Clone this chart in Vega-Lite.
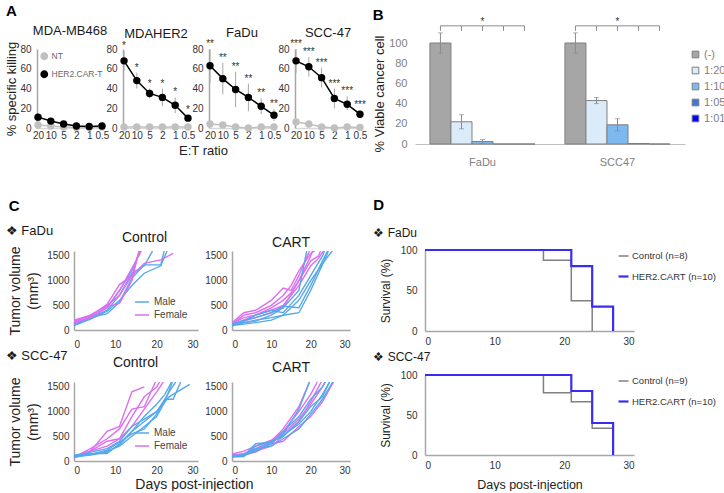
{
"$schema":"https://vega.github.io/schema/vega-lite/v6.json",
"padding":{"left":5,"top":4,"right":0,"bottom":0},
"config":{
 "font":"Liberation Sans",
 "view":{"stroke":null},
 "axis":{"grid":false,"ticks":false,"domainColor":"#a6a6a6","domainWidth":1.5,"labelColor":"#333333","labelFontSize":10,"titleFontWeight":"normal","titleColor":"#222222"},
 "title":{"fontWeight":"normal","color":"#1a1a1a"}
},
"datasets":{
 "kill":[
  {"c":"MDA-MB468","e":"20","g":"NT","v":3,"lo":2,"hi":4,"s":""},
  {"c":"MDA-MB468","e":"10","g":"NT","v":2,"lo":1,"hi":3,"s":""},
  {"c":"MDA-MB468","e":"5","g":"NT","v":1,"lo":0,"hi":2,"s":""},
  {"c":"MDA-MB468","e":"2","g":"NT","v":0.5,"lo":0,"hi":1.5,"s":""},
  {"c":"MDA-MB468","e":"1","g":"NT","v":0.5,"lo":0,"hi":1.5,"s":""},
  {"c":"MDA-MB468","e":"0.5","g":"NT","v":1,"lo":0,"hi":2,"s":""},
  {"c":"MDA-MB468","e":"20","g":"HER2.CAR-T","v":11,"lo":8,"hi":14,"s":""},
  {"c":"MDA-MB468","e":"10","g":"HER2.CAR-T","v":7,"lo":5,"hi":9,"s":""},
  {"c":"MDA-MB468","e":"5","g":"HER2.CAR-T","v":4,"lo":2.5,"hi":5.5,"s":""},
  {"c":"MDA-MB468","e":"2","g":"HER2.CAR-T","v":2,"lo":1,"hi":3,"s":""},
  {"c":"MDA-MB468","e":"1","g":"HER2.CAR-T","v":1.5,"lo":0.5,"hi":2.5,"s":""},
  {"c":"MDA-MB468","e":"0.5","g":"HER2.CAR-T","v":2,"lo":1,"hi":3,"s":""},
  {"c":"MDAHER2","e":"20","g":"NT","v":1,"lo":0,"hi":2,"s":""},
  {"c":"MDAHER2","e":"10","g":"NT","v":1,"lo":0,"hi":2,"s":""},
  {"c":"MDAHER2","e":"5","g":"NT","v":1,"lo":0,"hi":2,"s":""},
  {"c":"MDAHER2","e":"2","g":"NT","v":1,"lo":0,"hi":2,"s":""},
  {"c":"MDAHER2","e":"1","g":"NT","v":1,"lo":0,"hi":2,"s":""},
  {"c":"MDAHER2","e":"0.5","g":"NT","v":1,"lo":0,"hi":2,"s":""},
  {"c":"MDAHER2","e":"20","g":"HER2.CAR-T","v":68,"lo":58,"hi":78,"s":"*"},
  {"c":"MDAHER2","e":"10","g":"HER2.CAR-T","v":48,"lo":40,"hi":56,"s":"*"},
  {"c":"MDAHER2","e":"5","g":"HER2.CAR-T","v":35,"lo":30,"hi":40,"s":"*"},
  {"c":"MDAHER2","e":"2","g":"HER2.CAR-T","v":31,"lo":22,"hi":40,"s":"*"},
  {"c":"MDAHER2","e":"1","g":"HER2.CAR-T","v":23,"lo":15,"hi":31,"s":"*"},
  {"c":"MDAHER2","e":"0.5","g":"HER2.CAR-T","v":10,"lo":7,"hi":13,"s":"*"},
  {"c":"FaDu","e":"20","g":"NT","v":4,"lo":2,"hi":6,"s":""},
  {"c":"FaDu","e":"10","g":"NT","v":3,"lo":2,"hi":4,"s":""},
  {"c":"FaDu","e":"5","g":"NT","v":1,"lo":0,"hi":2,"s":""},
  {"c":"FaDu","e":"2","g":"NT","v":0,"lo":0,"hi":1,"s":""},
  {"c":"FaDu","e":"1","g":"NT","v":1,"lo":0,"hi":2,"s":""},
  {"c":"FaDu","e":"0.5","g":"NT","v":1,"lo":0,"hi":2,"s":""},
  {"c":"FaDu","e":"20","g":"HER2.CAR-T","v":63,"lo":46,"hi":80,"s":"**"},
  {"c":"FaDu","e":"10","g":"HER2.CAR-T","v":50,"lo":34,"hi":66,"s":"**"},
  {"c":"FaDu","e":"5","g":"HER2.CAR-T","v":39,"lo":21,"hi":57,"s":"**"},
  {"c":"FaDu","e":"2","g":"HER2.CAR-T","v":31,"lo":17,"hi":45,"s":"**"},
  {"c":"FaDu","e":"1","g":"HER2.CAR-T","v":22,"lo":14,"hi":30,"s":"**"},
  {"c":"FaDu","e":"0.5","g":"HER2.CAR-T","v":13,"lo":7,"hi":19,"s":"**"},
  {"c":"SCC-47","e":"20","g":"NT","v":6,"lo":4,"hi":8,"s":""},
  {"c":"SCC-47","e":"10","g":"NT","v":4,"lo":2,"hi":6,"s":""},
  {"c":"SCC-47","e":"5","g":"NT","v":1,"lo":0,"hi":2,"s":""},
  {"c":"SCC-47","e":"2","g":"NT","v":0,"lo":0,"hi":1,"s":""},
  {"c":"SCC-47","e":"1","g":"NT","v":1,"lo":0,"hi":2,"s":""},
  {"c":"SCC-47","e":"0.5","g":"NT","v":0.5,"lo":0,"hi":1.5,"s":""},
  {"c":"SCC-47","e":"20","g":"HER2.CAR-T","v":68,"lo":56,"hi":80,"s":"***"},
  {"c":"SCC-47","e":"10","g":"HER2.CAR-T","v":62,"lo":52,"hi":72,"s":"***"},
  {"c":"SCC-47","e":"5","g":"HER2.CAR-T","v":51,"lo":41,"hi":61,"s":"***"},
  {"c":"SCC-47","e":"2","g":"HER2.CAR-T","v":30,"lo":20,"hi":40,"s":"***"},
  {"c":"SCC-47","e":"1","g":"HER2.CAR-T","v":24,"lo":18,"hi":32,"s":"***"},
  {"c":"SCC-47","e":"0.5","g":"HER2.CAR-T","v":14,"lo":10,"hi":18,"s":"***"}
 ],
 "via":[
  {"cell":"FaDu","r":"(-)","v":100,"lo":90,"hi":110},
  {"cell":"FaDu","r":"1:20","v":22,"lo":15,"hi":29},
  {"cell":"FaDu","r":"1:10","v":2.5,"lo":0.5,"hi":4.5},
  {"cell":"FaDu","r":"1:05","v":0,"lo":0,"hi":0},
  {"cell":"FaDu","r":"1:01","v":0,"lo":0,"hi":0},
  {"cell":"SCC47","r":"(-)","v":100,"lo":90,"hi":110},
  {"cell":"SCC47","r":"1:20","v":43,"lo":40,"hi":46},
  {"cell":"SCC47","r":"1:10","v":19,"lo":13,"hi":25},
  {"cell":"SCC47","r":"1:05","v":0.5,"lo":0.5,"hi":0.5},
  {"cell":"SCC47","r":"1:01","v":0,"lo":0,"hi":0}
 ],
 "fc":[
  {"id":"m1","s":"Male","d":0,"v":100},{"id":"m1","s":"Male","d":4,"v":250},{"id":"m1","s":"Male","d":8,"v":330},{"id":"m1","s":"Male","d":11,"v":560},{"id":"m1","s":"Male","d":14,"v":1050},{"id":"m1","s":"Male","d":17,"v":1320},{"id":"m1","s":"Male","d":21,"v":1320},{"id":"m1","s":"Male","d":21.8,"v":1600},
  {"id":"m2","s":"Male","d":0,"v":120},{"id":"m2","s":"Male","d":4,"v":240},{"id":"m2","s":"Male","d":8,"v":400},{"id":"m2","s":"Male","d":11,"v":700},{"id":"m2","s":"Male","d":14,"v":1150},{"id":"m2","s":"Male","d":17,"v":1300},{"id":"m2","s":"Male","d":19,"v":1600},
  {"id":"m3","s":"Male","d":0,"v":90},{"id":"m3","s":"Male","d":4,"v":220},{"id":"m3","s":"Male","d":8,"v":380},{"id":"m3","s":"Male","d":11,"v":600},{"id":"m3","s":"Male","d":14,"v":900},{"id":"m3","s":"Male","d":17,"v":1150},{"id":"m3","s":"Male","d":21,"v":1300},{"id":"m3","s":"Male","d":22.5,"v":1600},
  {"id":"m4","s":"Male","d":0,"v":130},{"id":"m4","s":"Male","d":4,"v":260},{"id":"m4","s":"Male","d":8,"v":450},{"id":"m4","s":"Male","d":11,"v":800},{"id":"m4","s":"Male","d":14,"v":1200},{"id":"m4","s":"Male","d":16,"v":1600},
  {"id":"f1","s":"Female","d":0,"v":180},{"id":"f1","s":"Female","d":4,"v":280},{"id":"f1","s":"Female","d":8,"v":520},{"id":"f1","s":"Female","d":11,"v":920},{"id":"f1","s":"Female","d":14,"v":1100},{"id":"f1","s":"Female","d":17,"v":1350},{"id":"f1","s":"Female","d":21,"v":1420},{"id":"f1","s":"Female","d":24,"v":1550},
  {"id":"f2","s":"Female","d":0,"v":150},{"id":"f2","s":"Female","d":4,"v":300},{"id":"f2","s":"Female","d":8,"v":480},{"id":"f2","s":"Female","d":11,"v":540},{"id":"f2","s":"Female","d":14,"v":1000},{"id":"f2","s":"Female","d":15.7,"v":1600},
  {"id":"f3","s":"Female","d":0,"v":200},{"id":"f3","s":"Female","d":4,"v":300},{"id":"f3","s":"Female","d":8,"v":500},{"id":"f3","s":"Female","d":11,"v":700},{"id":"f3","s":"Female","d":14,"v":1100},{"id":"f3","s":"Female","d":15.8,"v":1600},
  {"id":"f4","s":"Female","d":0,"v":140},{"id":"f4","s":"Female","d":4,"v":250},{"id":"f4","s":"Female","d":8,"v":450},{"id":"f4","s":"Female","d":11,"v":800},{"id":"f4","s":"Female","d":14,"v":1250},{"id":"f4","s":"Female","d":16.3,"v":1600}
 ],
 "ft":[
  {"id":"f1","s":"Female","d":0,"v":150},{"id":"f1","s":"Female","d":3,"v":350},{"id":"f1","s":"Female","d":6,"v":400},{"id":"f1","s":"Female","d":10,"v":600},{"id":"f1","s":"Female","d":13,"v":850},{"id":"f1","s":"Female","d":15,"v":800},{"id":"f1","s":"Female","d":17,"v":1100},{"id":"f1","s":"Female","d":19.7,"v":1600},
  {"id":"f2","s":"Female","d":0,"v":120},{"id":"f2","s":"Female","d":3,"v":300},{"id":"f2","s":"Female","d":6,"v":350},{"id":"f2","s":"Female","d":10,"v":500},{"id":"f2","s":"Female","d":13,"v":700},{"id":"f2","s":"Female","d":15,"v":900},{"id":"f2","s":"Female","d":17,"v":1200},{"id":"f2","s":"Female","d":20,"v":1550},{"id":"f2","s":"Female","d":21,"v":1600},
  {"id":"f3","s":"Female","d":0,"v":130},{"id":"f3","s":"Female","d":3,"v":250},{"id":"f3","s":"Female","d":6,"v":300},{"id":"f3","s":"Female","d":10,"v":450},{"id":"f3","s":"Female","d":13,"v":600},{"id":"f3","s":"Female","d":15,"v":750},{"id":"f3","s":"Female","d":17,"v":1000},{"id":"f3","s":"Female","d":20,"v":1400},{"id":"f3","s":"Female","d":22,"v":1500},{"id":"f3","s":"Female","d":22.5,"v":1600},
  {"id":"f4","s":"Female","d":0,"v":100},{"id":"f4","s":"Female","d":3,"v":200},{"id":"f4","s":"Female","d":6,"v":300},{"id":"f4","s":"Female","d":10,"v":400},{"id":"f4","s":"Female","d":13,"v":500},{"id":"f4","s":"Female","d":17,"v":900},{"id":"f4","s":"Female","d":20,"v":1300},{"id":"f4","s":"Female","d":22,"v":1450},{"id":"f4","s":"Female","d":23.2,"v":1600},
  {"id":"f5","s":"Female","d":0,"v":110},{"id":"f5","s":"Female","d":3,"v":180},{"id":"f5","s":"Female","d":6,"v":250},{"id":"f5","s":"Female","d":10,"v":350},{"id":"f5","s":"Female","d":13,"v":450},{"id":"f5","s":"Female","d":17,"v":1000},{"id":"f5","s":"Female","d":20,"v":1500},{"id":"f5","s":"Female","d":20.5,"v":1600},
  {"id":"m1","s":"Male","d":0,"v":100},{"id":"m1","s":"Male","d":3,"v":150},{"id":"m1","s":"Male","d":6,"v":200},{"id":"m1","s":"Male","d":10,"v":250},{"id":"m1","s":"Male","d":13,"v":300},{"id":"m1","s":"Male","d":17,"v":350},{"id":"m1","s":"Male","d":20,"v":800},{"id":"m1","s":"Male","d":24,"v":1500},{"id":"m1","s":"Male","d":24.5,"v":1600},
  {"id":"m2","s":"Male","d":0,"v":90},{"id":"m2","s":"Male","d":3,"v":120},{"id":"m2","s":"Male","d":6,"v":150},{"id":"m2","s":"Male","d":10,"v":200},{"id":"m2","s":"Male","d":13,"v":300},{"id":"m2","s":"Male","d":17,"v":600},{"id":"m2","s":"Male","d":20,"v":1000},{"id":"m2","s":"Male","d":24,"v":1450},{"id":"m2","s":"Male","d":25.5,"v":1600},
  {"id":"m3","s":"Male","d":0,"v":120},{"id":"m3","s":"Male","d":3,"v":200},{"id":"m3","s":"Male","d":6,"v":250},{"id":"m3","s":"Male","d":10,"v":350},{"id":"m3","s":"Male","d":13,"v":480},{"id":"m3","s":"Male","d":17,"v":450},{"id":"m3","s":"Male","d":20,"v":900},{"id":"m3","s":"Male","d":23,"v":1400},{"id":"m3","s":"Male","d":24.3,"v":1600},
  {"id":"m4","s":"Male","d":0,"v":80},{"id":"m4","s":"Male","d":3,"v":180},{"id":"m4","s":"Male","d":6,"v":300},{"id":"m4","s":"Male","d":10,"v":400},{"id":"m4","s":"Male","d":13,"v":350},{"id":"m4","s":"Male","d":17,"v":700},{"id":"m4","s":"Male","d":20,"v":1100},{"id":"m4","s":"Male","d":23,"v":1500},{"id":"m4","s":"Male","d":23.5,"v":1600},
  {"id":"m5","s":"Male","d":0,"v":100},{"id":"m5","s":"Male","d":3,"v":150},{"id":"m5","s":"Male","d":6,"v":180},{"id":"m5","s":"Male","d":10,"v":300},{"id":"m5","s":"Male","d":13,"v":450},{"id":"m5","s":"Male","d":17,"v":800},{"id":"m5","s":"Male","d":19,"v":1600}
 ],
 "sc":[
  {"id":"f1","s":"Female","d":0,"v":100},{"id":"f1","s":"Female","d":4,"v":200},{"id":"f1","s":"Female","d":8,"v":600},{"id":"f1","s":"Female","d":11,"v":700},{"id":"f1","s":"Female","d":14,"v":1400},{"id":"f1","s":"Female","d":17,"v":1500},
  {"id":"f2","s":"Female","d":0,"v":80},{"id":"f2","s":"Female","d":4,"v":250},{"id":"f2","s":"Female","d":8,"v":450},{"id":"f2","s":"Female","d":11,"v":650},{"id":"f2","s":"Female","d":14,"v":1050},{"id":"f2","s":"Female","d":17,"v":1100},{"id":"f2","s":"Female","d":19.7,"v":1600},
  {"id":"f3","s":"Female","d":0,"v":60},{"id":"f3","s":"Female","d":4,"v":200},{"id":"f3","s":"Female","d":8,"v":400},{"id":"f3","s":"Female","d":11,"v":450},{"id":"f3","s":"Female","d":14,"v":900},{"id":"f3","s":"Female","d":17,"v":1300},{"id":"f3","s":"Female","d":20,"v":1500},{"id":"f3","s":"Female","d":20.7,"v":1600},
  {"id":"f4","s":"Female","d":0,"v":100},{"id":"f4","s":"Female","d":4,"v":200},{"id":"f4","s":"Female","d":8,"v":300},{"id":"f4","s":"Female","d":11,"v":450},{"id":"f4","s":"Female","d":14,"v":700},{"id":"f4","s":"Female","d":17,"v":1050},{"id":"f4","s":"Female","d":20,"v":1400},{"id":"f4","s":"Female","d":21.6,"v":1600},
  {"id":"m1","s":"Male","d":0,"v":120},{"id":"m1","s":"Male","d":4,"v":150},{"id":"m1","s":"Male","d":8,"v":150},{"id":"m1","s":"Male","d":11,"v":350},{"id":"m1","s":"Male","d":14,"v":600},{"id":"m1","s":"Male","d":17,"v":800},{"id":"m1","s":"Male","d":20,"v":1000},{"id":"m1","s":"Male","d":22,"v":1250},{"id":"m1","s":"Male","d":24,"v":1250},{"id":"m1","s":"Male","d":25.8,"v":1600},
  {"id":"m2","s":"Male","d":0,"v":100},{"id":"m2","s":"Male","d":4,"v":130},{"id":"m2","s":"Male","d":8,"v":200},{"id":"m2","s":"Male","d":11,"v":300},{"id":"m2","s":"Male","d":14,"v":500},{"id":"m2","s":"Male","d":17,"v":700},{"id":"m2","s":"Male","d":20,"v":900},{"id":"m2","s":"Male","d":22,"v":1200},{"id":"m2","s":"Male","d":23.8,"v":1600},
  {"id":"m3","s":"Male","d":0,"v":90},{"id":"m3","s":"Male","d":4,"v":180},{"id":"m3","s":"Male","d":8,"v":250},{"id":"m3","s":"Male","d":11,"v":400},{"id":"m3","s":"Male","d":14,"v":700},{"id":"m3","s":"Male","d":17,"v":850},{"id":"m3","s":"Male","d":20,"v":1000},{"id":"m3","s":"Male","d":23,"v":1300},{"id":"m3","s":"Male","d":28,"v":1550},
  {"id":"m4","s":"Male","d":0,"v":110},{"id":"m4","s":"Male","d":4,"v":140},{"id":"m4","s":"Male","d":8,"v":220},{"id":"m4","s":"Male","d":11,"v":380},{"id":"m4","s":"Male","d":14,"v":550},{"id":"m4","s":"Male","d":17,"v":650},{"id":"m4","s":"Male","d":20,"v":950},{"id":"m4","s":"Male","d":23,"v":1400},{"id":"m4","s":"Male","d":24.6,"v":1600},
  {"id":"m5","s":"Male","d":0,"v":80},{"id":"m5","s":"Male","d":4,"v":120},{"id":"m5","s":"Male","d":8,"v":180},{"id":"m5","s":"Male","d":11,"v":320},{"id":"m5","s":"Male","d":14,"v":600},{"id":"m5","s":"Male","d":17,"v":900},{"id":"m5","s":"Male","d":20,"v":1150},{"id":"m5","s":"Male","d":22,"v":1350},{"id":"m5","s":"Male","d":23.6,"v":1600}
 ],
 "st":[
  {"id":"f1","s":"Female","d":0,"v":120},{"id":"f1","s":"Female","d":3,"v":150},{"id":"f1","s":"Female","d":6,"v":250},{"id":"f1","s":"Female","d":10,"v":400},{"id":"f1","s":"Female","d":13,"v":650},{"id":"f1","s":"Female","d":17,"v":1100},{"id":"f1","s":"Female","d":19.7,"v":1600},
  {"id":"f2","s":"Female","d":0,"v":100},{"id":"f2","s":"Female","d":3,"v":130},{"id":"f2","s":"Female","d":6,"v":200},{"id":"f2","s":"Female","d":10,"v":350},{"id":"f2","s":"Female","d":13,"v":550},{"id":"f2","s":"Female","d":17,"v":850},{"id":"f2","s":"Female","d":20,"v":1150},{"id":"f2","s":"Female","d":23,"v":1500},{"id":"f2","s":"Female","d":23.7,"v":1600},
  {"id":"f3","s":"Female","d":0,"v":100},{"id":"f3","s":"Female","d":3,"v":120},{"id":"f3","s":"Female","d":6,"v":180},{"id":"f3","s":"Female","d":10,"v":350},{"id":"f3","s":"Female","d":13,"v":400},{"id":"f3","s":"Female","d":17,"v":700},{"id":"f3","s":"Female","d":20,"v":900},{"id":"f3","s":"Female","d":23,"v":1200},{"id":"f3","s":"Female","d":25.8,"v":1600},
  {"id":"f4","s":"Female","d":0,"v":140},{"id":"f4","s":"Female","d":3,"v":200},{"id":"f4","s":"Female","d":6,"v":300},{"id":"f4","s":"Female","d":10,"v":420},{"id":"f4","s":"Female","d":13,"v":600},{"id":"f4","s":"Female","d":17,"v":1000},{"id":"f4","s":"Female","d":20,"v":1350},{"id":"f4","s":"Female","d":21.7,"v":1600},
  {"id":"f5","s":"Female","d":0,"v":90},{"id":"f5","s":"Female","d":3,"v":150},{"id":"f5","s":"Female","d":6,"v":200},{"id":"f5","s":"Female","d":10,"v":300},{"id":"f5","s":"Female","d":13,"v":500},{"id":"f5","s":"Female","d":17,"v":800},{"id":"f5","s":"Female","d":20,"v":1200},{"id":"f5","s":"Female","d":22,"v":1500},{"id":"f5","s":"Female","d":22.7,"v":1600},
  {"id":"m1","s":"Male","d":0,"v":100},{"id":"m1","s":"Male","d":3,"v":100},{"id":"m1","s":"Male","d":6,"v":350},{"id":"m1","s":"Male","d":10,"v":380},{"id":"m1","s":"Male","d":13,"v":550},{"id":"m1","s":"Male","d":17,"v":1050},{"id":"m1","s":"Male","d":19.7,"v":1600},
  {"id":"m2","s":"Male","d":0,"v":80},{"id":"m2","s":"Male","d":3,"v":90},{"id":"m2","s":"Male","d":6,"v":300},{"id":"m2","s":"Male","d":10,"v":400},{"id":"m2","s":"Male","d":13,"v":500},{"id":"m2","s":"Male","d":17,"v":800},{"id":"m2","s":"Male","d":20,"v":1100},{"id":"m2","s":"Male","d":23,"v":1300},{"id":"m2","s":"Male","d":24.8,"v":1600},
  {"id":"m3","s":"Male","d":0,"v":110},{"id":"m3","s":"Male","d":3,"v":120},{"id":"m3","s":"Male","d":6,"v":250},{"id":"m3","s":"Male","d":10,"v":300},{"id":"m3","s":"Male","d":13,"v":450},{"id":"m3","s":"Male","d":17,"v":650},{"id":"m3","s":"Male","d":20,"v":950},{"id":"m3","s":"Male","d":23,"v":1250},{"id":"m3","s":"Male","d":25.6,"v":1600},
  {"id":"m4","s":"Male","d":0,"v":90},{"id":"m4","s":"Male","d":3,"v":110},{"id":"m4","s":"Male","d":6,"v":200},{"id":"m4","s":"Male","d":10,"v":350},{"id":"m4","s":"Male","d":13,"v":600},{"id":"m4","s":"Male","d":17,"v":900},{"id":"m4","s":"Male","d":20,"v":1250},{"id":"m4","s":"Male","d":23,"v":1500},{"id":"m4","s":"Male","d":23.7,"v":1600},
  {"id":"m5","s":"Male","d":0,"v":100},{"id":"m5","s":"Male","d":3,"v":130},{"id":"m5","s":"Male","d":6,"v":220},{"id":"m5","s":"Male","d":10,"v":380},{"id":"m5","s":"Male","d":13,"v":520},{"id":"m5","s":"Male","d":17,"v":750},{"id":"m5","s":"Male","d":20,"v":1000},{"id":"m5","s":"Male","d":23,"v":1350},{"id":"m5","s":"Male","d":24.8,"v":1600}
 ],
 "km1":[
  {"g":"Control (n=8)","d":0,"p":100},{"g":"Control (n=8)","d":17,"p":87.5},{"g":"Control (n=8)","d":21,"p":37.5},{"g":"Control (n=8)","d":24,"p":0},
  {"g":"HER2.CART (n=10)","d":0,"p":100},{"g":"HER2.CART (n=10)","d":21,"p":80},{"g":"HER2.CART (n=10)","d":24,"p":30},{"g":"HER2.CART (n=10)","d":27,"p":0}
 ],
 "km2":[
  {"g":"Control (n=9)","d":0,"p":100},{"g":"Control (n=9)","d":17,"p":77.8},{"g":"Control (n=9)","d":21,"p":66.7},{"g":"Control (n=9)","d":24,"p":33.3},{"g":"Control (n=9)","d":27,"p":0},
  {"g":"HER2.CART (n=10)","d":0,"p":100},{"g":"HER2.CART (n=10)","d":21,"p":80},{"g":"HER2.CART (n=10)","d":24,"p":40},{"g":"HER2.CART (n=10)","d":27,"p":0}
 ]
},
"columns":2,"align":"none","spacing":5,
"resolve":{"scale":{"color":"independent","strokeWidth":"independent"},"legend":{"color":"independent","strokeWidth":"independent"}},
"concat":[
 {"columns":1,"align":"none","spacing":42,
  "resolve":{"scale":{"color":"independent"},"legend":{"color":"independent"}},
  "concat":[
   {"title":{"text":"A","anchor":"start","fontSize":15,"fontWeight":"bold","offset":6,"color":"#000000"},
    "bounds":"flush","spacing":20,
    "resolve":{"scale":{"color":"independent"},"legend":{"color":"independent"}},
    "hconcat":[
     {"width":66,"height":79,"data":{"name":"kill"},
      "transform":[{"filter":"datum.c === 'MDA-MB468'"}],
      "title":{"text":"MDA-MB468","fontSize":13,"offset":3},
      "encoding":{
       "x":{"field":"e","type":"ordinal","scale":{"type":"point","domain":["20","10","5","2","1","0.5"],"padding":0.08},"axis":{"title":null,"labelAngle":0,"labelPadding":2,"domainColor":"#d9d9d9"}}
      },
      "layer":[
       {"mark":{"type":"rule","color":"#a6a6a6","strokeWidth":1},"encoding":{"y":{"field":"lo","type":"quantitative","scale":{"domain":[0,80]},"axis":{"values":[0,20,40,60,80],"title":"% specific killing","titleFontSize":13,"titlePadding":1,"labelPadding":6}},"y2":{"field":"hi"}}},
       {"mark":{"type":"line","strokeWidth":1.5},"encoding":{"y":{"field":"v","type":"quantitative","axis":{"values":[0,20,40,60,80],"title":"% specific killing","titleFontSize":13,"titlePadding":1,"labelPadding":6}},"color":{"field":"g","type":"nominal","scale":{"domain":["NT","HER2.CAR-T"],"range":["#c0c0c0","#000000"]},"legend":{"orient":"top-left","offset":3,"title":null,"padding":0,"symbolType":"circle","labelFontSize":8.5,"labelColor":"#666666","symbolSize":40,"rowPadding":5,"labelOffset":3}}}},
       {"mark":{"type":"circle","size":55,"opacity":1},"encoding":{"y":{"field":"v","type":"quantitative","axis":{"values":[0,20,40,60,80],"title":"% specific killing","titleFontSize":13,"titlePadding":1,"labelPadding":6}},"color":{"field":"g","type":"nominal","scale":{"domain":["NT","HER2.CAR-T"],"range":["#c0c0c0","#000000"]},"legend":{"orient":"top-left","offset":3,"title":null,"padding":0,"symbolType":"circle","labelFontSize":8.5,"labelColor":"#666666","symbolSize":40,"rowPadding":5,"labelOffset":3}}}}
      ]
     },
     {"width":66,"height":79,"data":{"name":"kill"},
      "transform":[{"filter":"datum.c === 'MDAHER2'"}],
      "title":{"text":"MDAHER2","fontSize":13,"offset":0},
      "encoding":{
       "x":{"field":"e","type":"ordinal","scale":{"type":"point","domain":["20","10","5","2","1","0.5"],"padding":0.08},"axis":{"title":"E:T ratio","titleFontSize":13,"titleX":80,"titlePadding":4,"labelAngle":0,"labelPadding":2,"domainColor":"#d9d9d9"}}
      },
      "layer":[
       {"mark":{"type":"rule","color":"#a6a6a6","strokeWidth":1},"encoding":{"y":{"field":"lo","type":"quantitative","scale":{"domain":[0,80]},"axis":{"values":[0,20,40,60,80],"title":null,"labelPadding":6}},"y2":{"field":"hi"}}},
       {"mark":{"type":"line","strokeWidth":1.5},"encoding":{"y":{"field":"v","type":"quantitative","axis":{"values":[0,20,40,60,80],"title":null,"labelPadding":6}},"color":{"field":"g","type":"nominal","scale":{"domain":["NT","HER2.CAR-T"],"range":["#c0c0c0","#000000"]},"legend":null}}},
       {"mark":{"type":"circle","size":55,"opacity":1},"encoding":{"y":{"field":"v","type":"quantitative","axis":{"values":[0,20,40,60,80],"title":null,"labelPadding":6}},"color":{"field":"g","type":"nominal","scale":{"domain":["NT","HER2.CAR-T"],"range":["#c0c0c0","#000000"]},"legend":null}}},
       {"transform":[{"filter":"datum.g === 'HER2.CAR-T'"}],"mark":{"type":"text","baseline":"bottom","fontSize":10,"color":"#333333"},"encoding":{"y":{"field":"hi","type":"quantitative","axis":{"values":[0,20,40,60,80],"title":null,"labelPadding":6}},"text":{"field":"s"}}}
      ]
     },
     {"width":66,"height":79,"data":{"name":"kill"},
      "transform":[{"filter":"datum.c === 'FaDu'"}],
      "title":{"text":"FaDu","fontSize":13,"offset":-1},
      "encoding":{
       "x":{"field":"e","type":"ordinal","scale":{"type":"point","domain":["20","10","5","2","1","0.5"],"padding":0.08},"axis":{"title":null,"labelAngle":0,"labelPadding":2,"domainColor":"#d9d9d9"}}
      },
      "layer":[
       {"mark":{"type":"rule","color":"#a6a6a6","strokeWidth":1},"encoding":{"y":{"field":"lo","type":"quantitative","scale":{"domain":[0,80]},"axis":{"values":[0,20,40,60,80],"title":null,"labelPadding":6}},"y2":{"field":"hi"}}},
       {"mark":{"type":"line","strokeWidth":1.5},"encoding":{"y":{"field":"v","type":"quantitative","axis":{"values":[0,20,40,60,80],"title":null,"labelPadding":6}},"color":{"field":"g","type":"nominal","scale":{"domain":["NT","HER2.CAR-T"],"range":["#c0c0c0","#000000"]},"legend":null}}},
       {"mark":{"type":"circle","size":55,"opacity":1},"encoding":{"y":{"field":"v","type":"quantitative","axis":{"values":[0,20,40,60,80],"title":null,"labelPadding":6}},"color":{"field":"g","type":"nominal","scale":{"domain":["NT","HER2.CAR-T"],"range":["#c0c0c0","#000000"]},"legend":null}}},
       {"transform":[{"filter":"datum.g === 'HER2.CAR-T'"}],"mark":{"type":"text","baseline":"bottom","fontSize":10,"color":"#333333"},"encoding":{"y":{"field":"hi","type":"quantitative","axis":{"values":[0,20,40,60,80],"title":null,"labelPadding":6}},"text":{"field":"s"}}}
      ]
     },
     {"width":66,"height":79,"data":{"name":"kill"},
      "transform":[{"filter":"datum.c === 'SCC-47'"}],
      "title":{"text":"SCC-47","fontSize":13,"offset":-1},
      "encoding":{
       "x":{"field":"e","type":"ordinal","scale":{"type":"point","domain":["20","10","5","2","1","0.5"],"padding":0.08},"axis":{"title":null,"labelAngle":0,"labelPadding":2,"domainColor":"#d9d9d9"}}
      },
      "layer":[
       {"mark":{"type":"rule","color":"#a6a6a6","strokeWidth":1},"encoding":{"y":{"field":"lo","type":"quantitative","scale":{"domain":[0,80]},"axis":{"values":[0,20,40,60,80],"title":null,"labelPadding":6}},"y2":{"field":"hi"}}},
       {"mark":{"type":"line","strokeWidth":1.5},"encoding":{"y":{"field":"v","type":"quantitative","axis":{"values":[0,20,40,60,80],"title":null,"labelPadding":6}},"color":{"field":"g","type":"nominal","scale":{"domain":["NT","HER2.CAR-T"],"range":["#c0c0c0","#000000"]},"legend":null}}},
       {"mark":{"type":"circle","size":55,"opacity":1},"encoding":{"y":{"field":"v","type":"quantitative","axis":{"values":[0,20,40,60,80],"title":null,"labelPadding":6}},"color":{"field":"g","type":"nominal","scale":{"domain":["NT","HER2.CAR-T"],"range":["#c0c0c0","#000000"]},"legend":null}}},
       {"transform":[{"filter":"datum.g === 'HER2.CAR-T'"}],"mark":{"type":"text","baseline":"bottom","fontSize":10,"color":"#333333"},"encoding":{"y":{"field":"hi","type":"quantitative","axis":{"values":[0,20,40,60,80],"title":null,"labelPadding":6}},"text":{"field":"s"}}}
      ]
     }
    ]
   },
   {"title":{"text":"C","anchor":"start","fontSize":15,"fontWeight":"bold","offset":11,"dx":3,"color":"#000000"},
    "columns":1,"align":"none","spacing":1,
    "resolve":{"scale":{"color":"independent"},"legend":{"color":"independent"}},
    "concat":[
     {"title":{"text":"❖ FaDu","anchor":"start","fontSize":13,"offset":-7,"dx":-3},
      "bounds":"flush","spacing":34,
      "resolve":{"scale":{"color":"independent"},"legend":{"color":"independent"}},
      "hconcat":[
       {"width":161,"height":79,"data":{"name":"fc"},
        "title":{"text":"Control","fontSize":14,"offset":1,"dx":27},
        "mark":{"type":"line","strokeWidth":1.4,"clip":true},
        "encoding":{
         "x":{"field":"d","type":"quantitative","scale":{"domain":[0,30],"range":[37,161]},"axis":{"values":[0,10,20,30],"title":null,"labelPadding":9}},
         "y":{"field":"v","type":"quantitative","scale":{"domain":[0,1600]},"axis":{"values":[0,500,1000,1500],"format":"d","offset":-37,"title":["Tumor volume","(mm³)"],"titleFontSize":14,"titleLineHeight":18,"titlePadding":6,"labelPadding":5}},
         "color":{"field":"s","type":"nominal","scale":{"domain":["Male","Female"],"range":["#55a8ea","#dd6ef2"]},"legend":{"orient":"bottom-right","offset":10,"title":null,"padding":0,"symbolType":"stroke","symbolSize":196,"symbolStrokeWidth":1.5,"labelFontSize":10,"labelColor":"#444444","rowPadding":0}},
         "detail":{"field":"id"}
        }
       },
       {"width":118,"height":79,"data":{"name":"ft"},
        "title":{"text":"CART","fontSize":14,"offset":1},
        "mark":{"type":"line","strokeWidth":1.4,"clip":true},
        "encoding":{
         "x":{"field":"d","type":"quantitative","scale":{"domain":[0,30]},"axis":{"values":[0,10,20,30],"title":null,"labelPadding":9}},
         "y":{"field":"v","type":"quantitative","scale":{"domain":[0,1600]},"axis":{"values":[0,500,1000,1500],"format":"d","title":null,"labelPadding":5}},
         "color":{"field":"s","type":"nominal","scale":{"domain":["Male","Female"],"range":["#55a8ea","#dd6ef2"]},"legend":null},
         "detail":{"field":"id"}
        }
       }
      ]
     },
     {"title":{"text":"❖ SCC-47","anchor":"start","fontSize":13,"offset":-7,"dx":-3},
      "bounds":"flush","spacing":34,
      "resolve":{"scale":{"color":"independent"},"legend":{"color":"independent"}},
      "hconcat":[
       {"width":161,"height":79,"data":{"name":"sc"},
        "title":{"text":"Control","fontSize":14,"offset":7,"dx":18},
        "mark":{"type":"line","strokeWidth":1.4,"clip":true},
        "encoding":{
         "x":{"field":"d","type":"quantitative","scale":{"domain":[0,30],"range":[37,161]},"axis":{"values":[0,10,20,30],"title":"Days post-injection","titleFontSize":14,"titleX":157,"titlePadding":2,"labelPadding":4}},
         "y":{"field":"v","type":"quantitative","scale":{"domain":[0,1600]},"axis":{"values":[0,500,1000,1500],"format":"d","offset":-37,"title":["Tumor volume","(mm³)"],"titleFontSize":14,"titleLineHeight":18,"titlePadding":6,"labelPadding":5}},
         "color":{"field":"s","type":"nominal","scale":{"domain":["Male","Female"],"range":["#55a8ea","#dd6ef2"]},"legend":{"orient":"bottom-right","offset":10,"title":null,"padding":0,"symbolType":"stroke","symbolSize":196,"symbolStrokeWidth":1.5,"labelFontSize":10,"labelColor":"#444444","rowPadding":0}},
         "detail":{"field":"id"}
        }
       },
       {"width":118,"height":79,"data":{"name":"st"},
        "title":{"text":"CART","fontSize":14,"offset":7},
        "mark":{"type":"line","strokeWidth":1.4,"clip":true},
        "encoding":{
         "x":{"field":"d","type":"quantitative","scale":{"domain":[0,30]},"axis":{"values":[0,10,20,30],"title":null,"labelPadding":4}},
         "y":{"field":"v","type":"quantitative","scale":{"domain":[0,1600]},"axis":{"values":[0,500,1000,1500],"format":"d","title":null,"labelPadding":5}},
         "color":{"field":"s","type":"nominal","scale":{"domain":["Male","Female"],"range":["#55a8ea","#dd6ef2"]},"legend":null},
         "detail":{"field":"id"}
        }
       }
      ]
     }
    ]
   }
  ]
 },
 {"columns":1,"align":"none","spacing":31,
  "resolve":{"scale":{"color":"independent","strokeWidth":"independent"},"legend":{"color":"independent","strokeWidth":"independent"}},
  "concat":[
   {"width":270,"height":95,"data":{"name":"via"},
    "title":{"text":"B","anchor":"start","fontSize":15,"fontWeight":"bold","offset":-6,"dx":-1,"color":"#000000"},
    "encoding":{
     "x":{"field":"cell","type":"nominal","scale":{"domain":["FaDu","SCC47"],"paddingInner":0,"paddingOuter":0},"axis":{"title":null,"labelAngle":0,"labelPadding":12,"labelColor":"#7f7f7f","labelFontSize":11,"domainColor":"#bfbfbf","domainWidth":1}},
     "xOffset":{"field":"r","type":"nominal","scale":{"domain":["(-)","1:20","1:10","1:05","1:01"],"paddingInner":0,"paddingOuter":0.71}}
    },
    "layer":[
     {"mark":{"type":"bar","stroke":"#7f7f7f","strokeWidth":1},
      "encoding":{
       "y":{"field":"v","type":"quantitative","scale":{"domain":[0,100],"range":[95,-6]},"axis":{"values":[0,20,40,60,80,100],"title":"% Viable cancer cell","titleFontSize":13,"titlePadding":2,"labelPadding":8,"labelColor":"#7f7f7f","labelFontSize":11,"domain":false}},
       "color":{"field":"r","type":"nominal","scale":{"domain":["(-)","1:20","1:10","1:05","1:01"],"range":["#a6a6a6","#dcebf9","#7db9ef","#4178d4","#0000ff"]},"legend":{"orient":"right","offset":5,"title":null,"padding":0,"symbolType":"square","symbolSize":45,"symbolStrokeColor":"#7f7f7f","symbolStrokeWidth":1,"labelFontSize":11,"labelColor":"#7f7f7f","rowPadding":4,"labelOffset":3}}
      }},
     {"transform":[{"filter":"datum.hi > datum.lo"}],"mark":{"type":"rule","color":"#8c8c8c","strokeWidth":1},"encoding":{"y":{"field":"lo","type":"quantitative","axis":{"values":[0,20,40,60,80,100],"title":"% Viable cancer cell","titleFontSize":13,"titlePadding":2,"labelPadding":8,"labelColor":"#7f7f7f","labelFontSize":11,"domain":false}},"y2":{"field":"hi"}}},
     {"transform":[{"filter":"datum.hi > datum.lo"}],"mark":{"type":"tick","color":"#8c8c8c","thickness":1,"size":5},"encoding":{"y":{"field":"lo","type":"quantitative","axis":{"values":[0,20,40,60,80,100],"title":"% Viable cancer cell","titleFontSize":13,"titlePadding":2,"labelPadding":8,"labelColor":"#7f7f7f","labelFontSize":11,"domain":false}}}},
     {"transform":[{"filter":"datum.hi > datum.lo"}],"mark":{"type":"tick","color":"#8c8c8c","thickness":1,"size":5},"encoding":{"y":{"field":"hi","type":"quantitative","axis":{"values":[0,20,40,60,80,100],"title":"% Viable cancer cell","titleFontSize":13,"titlePadding":2,"labelPadding":8,"labelColor":"#7f7f7f","labelFontSize":11,"domain":false}}}},
     {"mark":{"type":"line","color":"#8c8c8c","strokeWidth":1},"encoding":{"y":{"datum":117,"type":"quantitative","axis":{"values":[0,20,40,60,80,100],"title":"% Viable cancer cell","titleFontSize":13,"titlePadding":2,"labelPadding":8,"labelColor":"#7f7f7f","labelFontSize":11,"domain":false}},"detail":{"field":"cell"}}},
     {"mark":{"type":"rule","color":"#8c8c8c","strokeWidth":1},"encoding":{"y":{"datum":112,"type":"quantitative","axis":{"values":[0,20,40,60,80,100],"title":"% Viable cancer cell","titleFontSize":13,"titlePadding":2,"labelPadding":8,"labelColor":"#7f7f7f","labelFontSize":11,"domain":false}},"y2":{"datum":117}}},
     {"transform":[{"filter":"datum.r === '1:10'"}],"mark":{"type":"text","fontSize":10,"color":"#333333","baseline":"bottom"},"encoding":{"y":{"datum":116,"type":"quantitative","axis":{"values":[0,20,40,60,80,100],"title":"% Viable cancer cell","titleFontSize":13,"titlePadding":2,"labelPadding":8,"labelColor":"#7f7f7f","labelFontSize":11,"domain":false}},"text":{"value":"*"}}}
    ]
   },
   {"title":{"text":"D","anchor":"start","fontSize":15,"fontWeight":"bold","offset":14,"color":"#000000"},
    "columns":1,"align":"none","spacing":5,
    "resolve":{"scale":{"color":"independent","strokeWidth":"independent"},"legend":{"color":"independent","strokeWidth":"independent"}},
    "concat":[
     {"width":219,"height":81,"data":{"name":"km1"},
      "title":{"text":"❖ FaDu","anchor":"start","fontSize":12,"offset":5,"dx":-6},
      "mark":{"type":"line","interpolate":"step-after"},
      "encoding":{
       "x":{"field":"d","type":"quantitative","scale":{"domain":[0,30],"range":[10,219]},"axis":{"values":[0,10,20,30],"title":null,"labelPadding":5}},
       "y":{"field":"p","type":"quantitative","scale":{"domain":[0,100]},"axis":{"values":[0,50,100],"offset":-10,"title":"Survival (%)","titleFontSize":12,"titlePadding":8,"labelPadding":8}},
       "color":{"field":"g","type":"nominal","scale":{"domain":["Control (n=8)","HER2.CART (n=10)"],"range":["#808080","#3b2cf2"]},"legend":{"orient":"right","offset":-17,"title":null,"padding":0,"symbolType":"stroke","symbolSize":100,"symbolStrokeWidth":2,"labelFontSize":9.5,"labelColor":"#333333","rowPadding":9,"labelOffset":2}},
       "strokeWidth":{"field":"g","type":"ordinal","scale":{"domain":["Control (n=8)","HER2.CART (n=10)"],"range":[1.5,2.2]},"legend":null}
      }
     },
     {"width":219,"height":80,"data":{"name":"km2"},
      "title":{"text":"❖ SCC-47","anchor":"start","fontSize":12,"offset":6,"dx":-6},
      "mark":{"type":"line","interpolate":"step-after"},
      "encoding":{
       "x":{"field":"d","type":"quantitative","scale":{"domain":[0,30],"range":[10,219]},"axis":{"values":[0,10,20,30],"title":"Days post-injection","titleFontSize":12.5,"titlePadding":8,"labelPadding":5}},
       "y":{"field":"p","type":"quantitative","scale":{"domain":[0,100]},"axis":{"values":[0,50,100],"offset":-10,"title":"Survival (%)","titleFontSize":12,"titlePadding":8,"labelPadding":8}},
       "color":{"field":"g","type":"nominal","scale":{"domain":["Control (n=9)","HER2.CART (n=10)"],"range":["#808080","#3b2cf2"]},"legend":{"orient":"right","offset":-17,"title":null,"padding":0,"symbolType":"stroke","symbolSize":100,"symbolStrokeWidth":2,"labelFontSize":9.5,"labelColor":"#333333","rowPadding":9,"labelOffset":2}},
       "strokeWidth":{"field":"g","type":"ordinal","scale":{"domain":["Control (n=9)","HER2.CART (n=10)"],"range":[1.5,2.2]},"legend":null}
      }
     }
    ]
   }
  ]
 }
]
}
